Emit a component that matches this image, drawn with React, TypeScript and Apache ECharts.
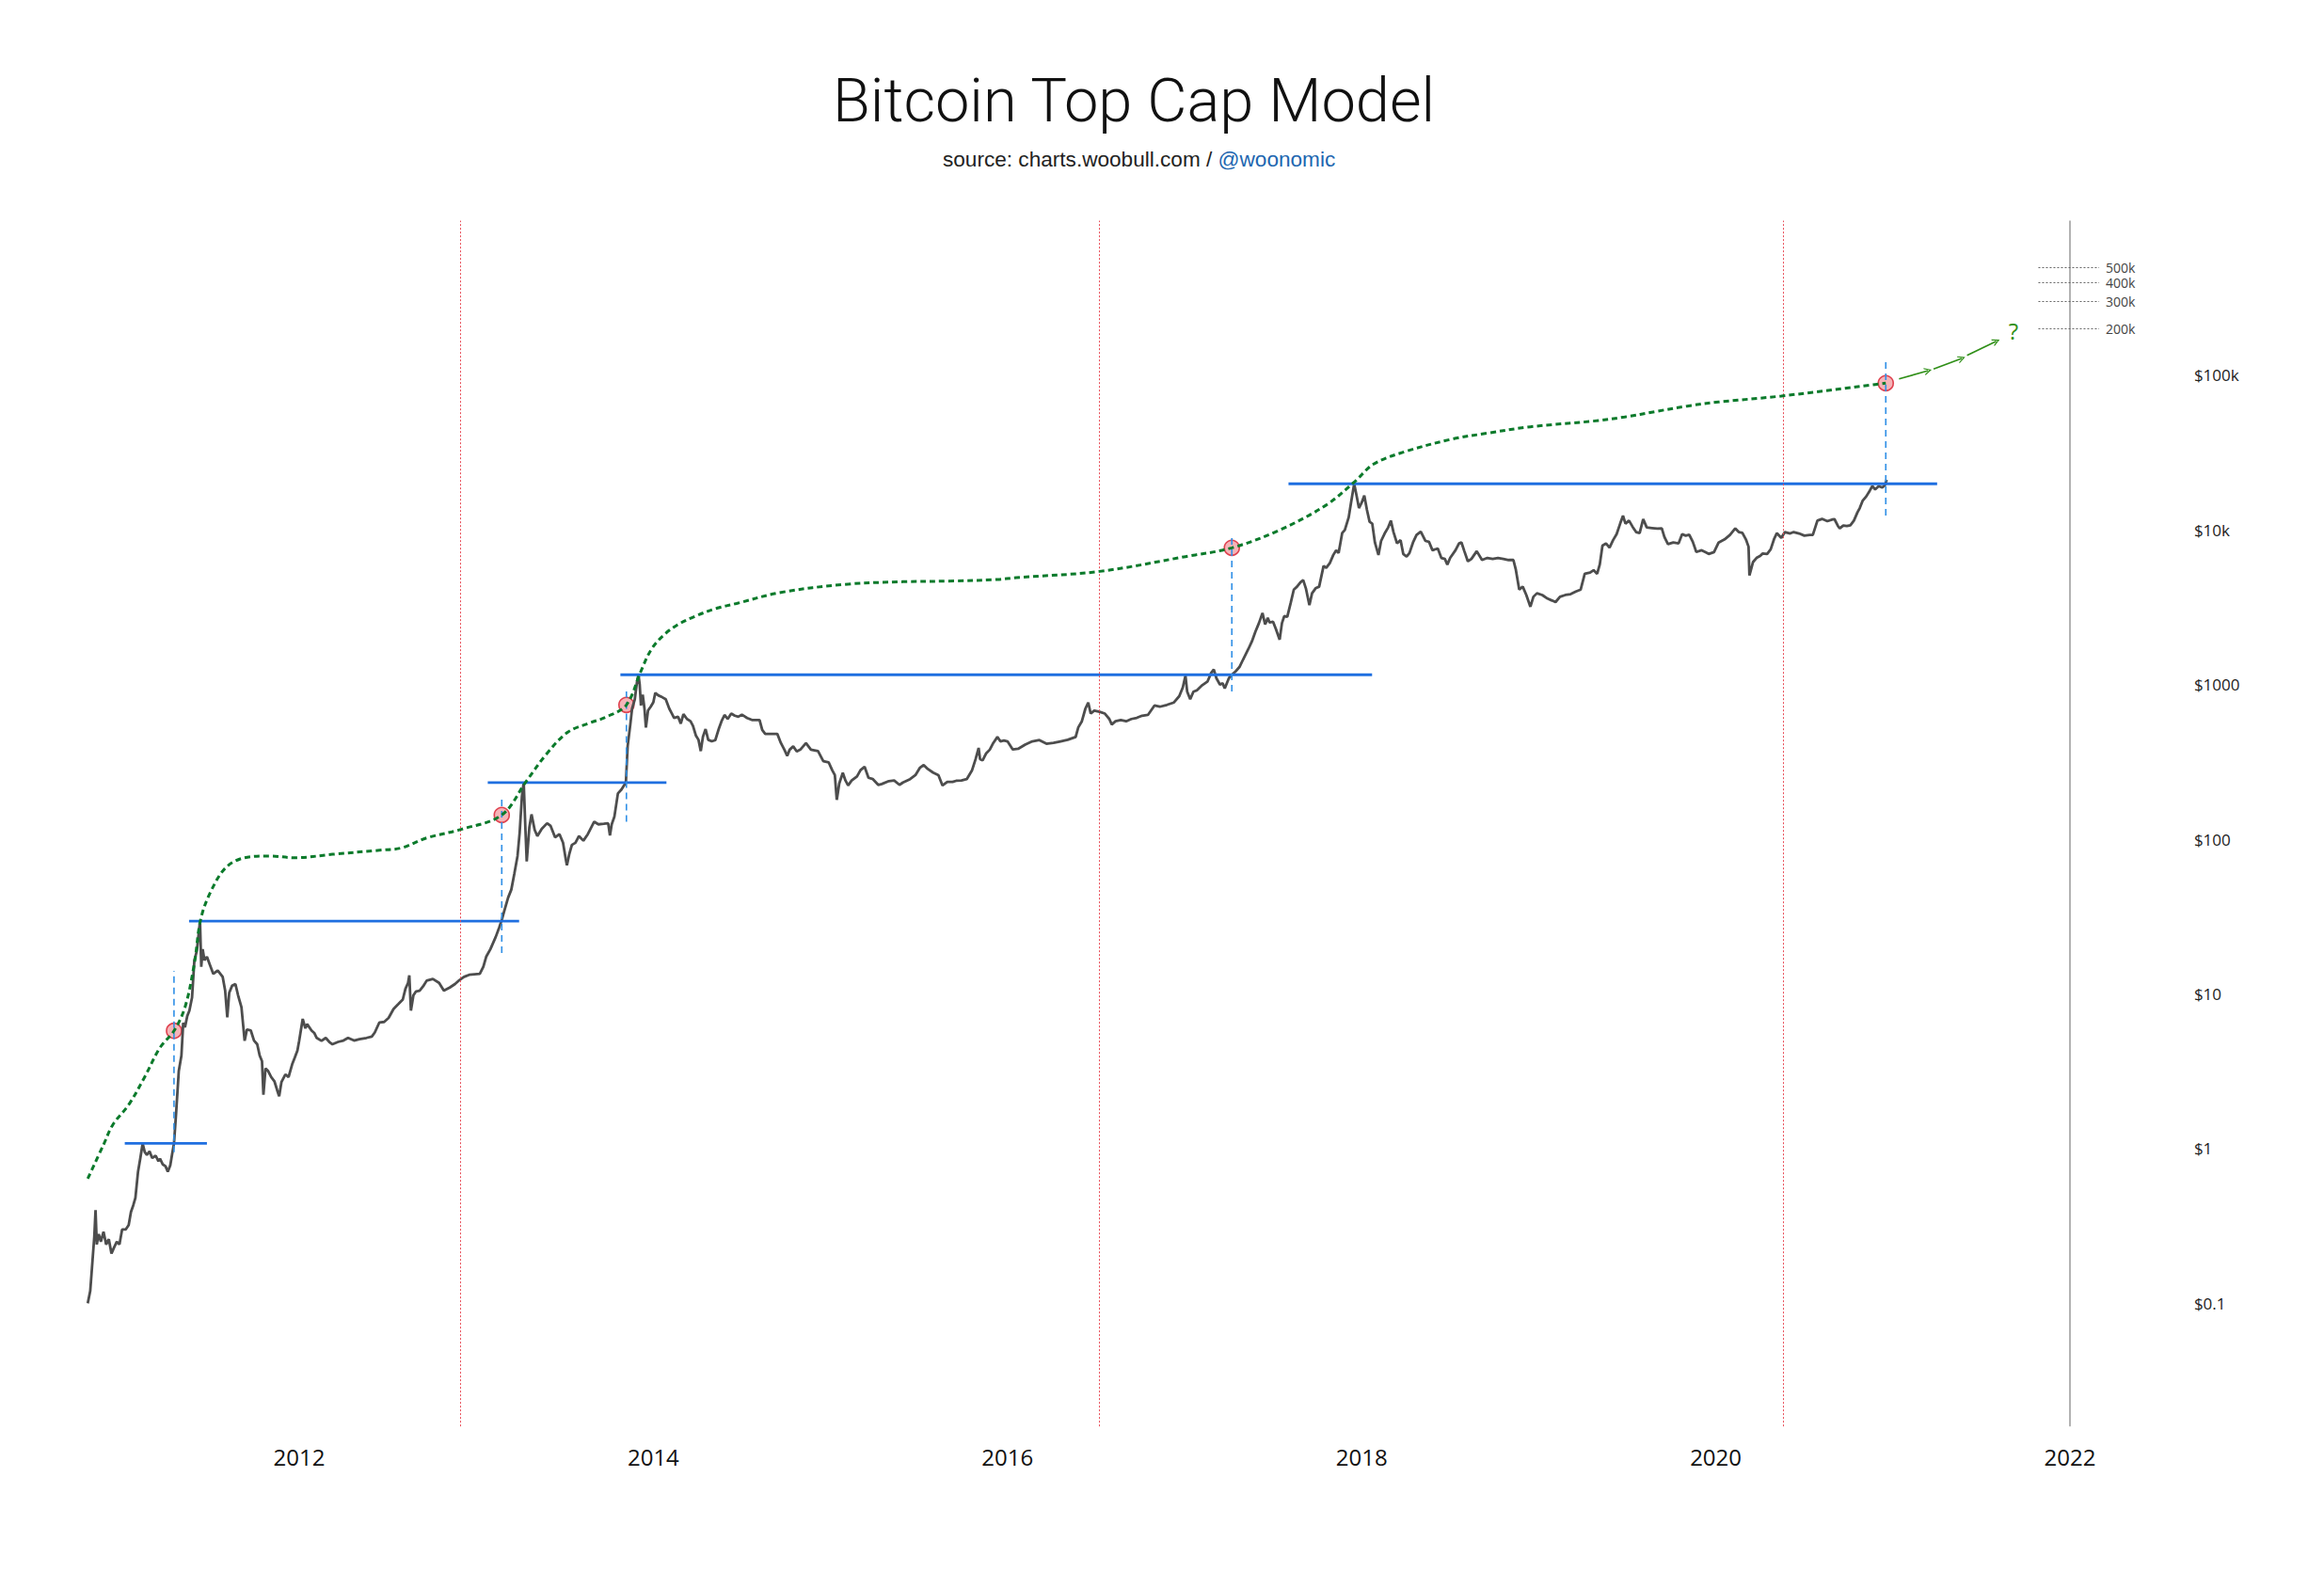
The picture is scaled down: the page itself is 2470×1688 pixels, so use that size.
import React, { useEffect, useRef } from "react";
import * as echarts from "echarts";

type Pt = [number, number];

// ---- axes ----
const yearTicks = [2012, 2014, 2016, 2018, 2020, 2022];
const priceTickExponents = [-1, 0, 1, 2, 3, 4, 5];
const priceTickLabels = ["$0.1", "$1", "$10", "$100", "$1000", "$10k", "$100k"];

// ---- events ----
const halvingDates = [2012.91, 2016.52, 2020.38];
const horizonDate = 2022;

// ---- BTC price (decimal year, USD) ----
const price2010_2011: Pt[] = [
  [2010.806, 0.1], [2010.82, 0.12], [2010.833, 0.19], [2010.843, 0.27], [2010.85, 0.4], [2010.857, 0.24],
  [2010.868, 0.28], [2010.88, 0.25], [2010.895, 0.29], [2010.91, 0.24], [2010.925, 0.26], [2010.94, 0.21],
  [2010.955, 0.23], [2010.97, 0.25], [2010.985, 0.24], [2011.0, 0.3], [2011.02, 0.3], [2011.037, 0.32],
  [2011.05, 0.39], [2011.063, 0.43], [2011.075, 0.48], [2011.09, 0.71], [2011.103, 0.87], [2011.116, 1.08],
  [2011.128, 0.95], [2011.14, 0.91], [2011.155, 0.96], [2011.17, 0.87], [2011.19, 0.9], [2011.205, 0.83],
  [2011.214, 0.86], [2011.23, 0.79], [2011.245, 0.77], [2011.258, 0.71], [2011.272, 0.78], [2011.283, 0.93],
  [2011.293, 1.08], [2011.305, 1.7], [2011.32, 3.17], [2011.335, 4.0], [2011.345, 6.5], [2011.355, 6.1],
  [2011.368, 7.2], [2011.38, 7.8], [2011.395, 9.5], [2011.408, 16.5], [2011.422, 19], [2011.44, 29.6],
  [2011.447, 15], [2011.455, 19.5], [2011.465, 16.5], [2011.479, 17.4], [2011.495, 15.5], [2011.515, 13.5],
  [2011.54, 14.2], [2011.568, 12.9], [2011.582, 10.5], [2011.594, 7.06], [2011.605, 10.2], [2011.621, 11.3],
  [2011.64, 11.6], [2011.655, 9.8], [2011.674, 8.2], [2011.692, 4.98], [2011.705, 5.9], [2011.727, 5.8],
  [2011.745, 5.0], [2011.763, 4.73], [2011.777, 4.0], [2011.79, 3.68], [2011.798, 2.23], [2011.81, 3.3],
  [2011.825, 3.17], [2011.842, 2.9], [2011.86, 2.73], [2011.875, 2.4], [2011.887, 2.18], [2011.9, 2.7],
  [2011.922, 3.02], [2011.94, 2.9], [2011.96, 3.5], [2011.975, 3.87], [2011.99, 4.3],
];

const price2012_2013: Pt[] = [
  [2012.0, 4.98], [2012.02, 6.9], [2012.035, 6.0], [2012.045, 6.38], [2012.07, 5.8], [2012.085, 5.6],
  [2012.099, 5.2], [2012.126, 4.98], [2012.15, 5.2], [2012.17, 4.9], [2012.188, 4.73], [2012.22, 4.9],
  [2012.25, 5.0], [2012.276, 5.2], [2012.31, 5.0], [2012.34, 5.1], [2012.38, 5.2], [2012.41, 5.3],
  [2012.427, 5.64], [2012.453, 6.55], [2012.48, 6.6], [2012.505, 7.0], [2012.533, 8.0], [2012.56, 8.6],
  [2012.585, 9.2], [2012.6, 10.8], [2012.615, 11.8], [2012.622, 13.2], [2012.631, 7.8], [2012.645, 9.8],
  [2012.66, 10.4], [2012.68, 10.5], [2012.7, 11.2], [2012.72, 12.2], [2012.755, 12.5], [2012.79, 11.8],
  [2012.817, 10.5], [2012.85, 11.0], [2012.88, 11.6], [2012.905, 12.3], [2012.931, 12.9], [2012.96, 13.3],
  [2012.99, 13.4], [2013.02, 13.5], [2013.04, 15], [2013.056, 17.4], [2013.08, 19.5], [2013.11, 23.4],
  [2013.13, 27], [2013.144, 30.1], [2013.16, 35], [2013.18, 42], [2013.198, 47.3], [2013.215, 60],
  [2013.233, 78], [2013.245, 110], [2013.258, 190], [2013.268, 233], [2013.276, 130], [2013.285, 72],
  [2013.3, 120], [2013.312, 145], [2013.33, 115], [2013.345, 105], [2013.37, 117], [2013.4, 127],
  [2013.42, 122], [2013.445, 103], [2013.47, 108], [2013.49, 95], [2013.505, 75], [2013.512, 68],
  [2013.525, 80], [2013.54, 92], [2013.56, 95], [2013.58, 105], [2013.605, 98], [2013.63, 108],
  [2013.666, 130], [2013.69, 125], [2013.72, 126], [2013.745, 127], [2013.755, 106], [2013.765, 125],
  [2013.78, 140], [2013.8, 198], [2013.82, 210], [2013.845, 233], [2013.855, 400], [2013.87, 553],
  [2013.88, 700], [2013.895, 800], [2013.908, 1050], [2013.916, 1159], [2013.923, 1000], [2013.93, 733],
  [2013.94, 860], [2013.95, 700], [2013.958, 528], [2013.97, 680], [2013.985, 720],
];

const price2014_2015: Pt[] = [
  [2014.0, 770], [2014.011, 884], [2014.03, 850], [2014.05, 830], [2014.07, 805], [2014.09, 700],
  [2014.105, 650], [2014.117, 609], [2014.14, 620], [2014.155, 560], [2014.17, 645], [2014.19, 600],
  [2014.21, 580], [2014.224, 541], [2014.24, 470], [2014.255, 440], [2014.268, 372], [2014.28, 460],
  [2014.295, 516], [2014.31, 440], [2014.33, 430], [2014.35, 438], [2014.37, 520], [2014.385, 580],
  [2014.402, 637], [2014.42, 600], [2014.44, 650], [2014.46, 630], [2014.48, 620], [2014.5, 640],
  [2014.53, 609], [2014.56, 590], [2014.6, 590], [2014.615, 510], [2014.632, 481], [2014.66, 480],
  [2014.7, 481], [2014.72, 420], [2014.74, 380], [2014.756, 347], [2014.77, 380], [2014.79, 399],
  [2014.81, 370], [2014.83, 380], [2014.862, 419], [2014.89, 380], [2014.93, 372], [2014.96, 320],
  [2014.99, 315], [2015.01, 280], [2015.025, 260], [2015.036, 180], [2015.05, 230], [2015.07, 269],
  [2015.085, 240], [2015.1, 223], [2015.12, 240], [2015.15, 255], [2015.17, 280], [2015.193, 295],
  [2015.215, 250], [2015.24, 245], [2015.27, 225], [2015.29, 228], [2015.33, 238], [2015.36, 240],
  [2015.39, 225], [2015.41, 233], [2015.45, 245], [2015.48, 260], [2015.505, 290], [2015.527, 302],
  [2015.55, 285], [2015.58, 270], [2015.61, 260], [2015.633, 223], [2015.66, 235], [2015.69, 235],
  [2015.71, 239], [2015.74, 240], [2015.77, 245], [2015.8, 280], [2015.82, 330], [2015.837, 390],
  [2015.845, 330], [2015.86, 324], [2015.88, 360], [2015.9, 380], [2015.92, 420], [2015.943, 459],
  [2015.96, 430], [2015.98, 435],
];

const price2016_2018: Pt[] = [
  [2016.0, 430], [2016.03, 381], [2016.06, 385], [2016.1, 410], [2016.14, 430], [2016.18, 438],
  [2016.22, 415], [2016.26, 420], [2016.3, 430], [2016.34, 440], [2016.385, 459], [2016.4, 530],
  [2016.42, 580], [2016.44, 700], [2016.456, 767], [2016.47, 650], [2016.49, 680], [2016.52, 667],
  [2016.55, 650], [2016.575, 600], [2016.589, 553], [2016.61, 580], [2016.64, 590], [2016.67, 580],
  [2016.7, 600], [2016.73, 610], [2016.76, 630], [2016.793, 637], [2016.83, 733], [2016.86, 720],
  [2016.9, 740], [2016.94, 767], [2016.97, 843], [2016.99, 960], [2017.005, 1143], [2017.015, 900],
  [2017.032, 805], [2017.05, 900], [2017.07, 920], [2017.1, 993], [2017.13, 1050], [2017.15, 1190],
  [2017.165, 1254], [2017.18, 1100], [2017.2, 1000], [2017.215, 1020], [2017.227, 946], [2017.25, 1100],
  [2017.267, 1160], [2017.289, 1222], [2017.31, 1300], [2017.33, 1450], [2017.36, 1698], [2017.38, 1900],
  [2017.4, 2200], [2017.42, 2500], [2017.44, 2906], [2017.455, 2450], [2017.47, 2700], [2017.48, 2525],
  [2017.5, 2550], [2017.515, 2300], [2017.537, 1955], [2017.55, 2500], [2017.563, 2773], [2017.58, 2750],
  [2017.6, 3400], [2017.617, 4120], [2017.635, 4300], [2017.655, 4600], [2017.67, 4740], [2017.685, 4200],
  [2017.705, 3266], [2017.72, 3900], [2017.74, 4200], [2017.76, 4300], [2017.785, 5850], [2017.8, 5700],
  [2017.82, 6100], [2017.84, 6900], [2017.856, 7390], [2017.87, 7100], [2017.89, 9550], [2017.905, 10000],
  [2017.927, 12080], [2017.94, 15000], [2017.958, 19900], [2017.97, 17000], [2017.985, 13870], [2018.0, 15000],
  [2018.015, 16700], [2018.03, 13500], [2018.045, 11300], [2018.06, 11000], [2018.075, 8300], [2018.095, 6890],
  [2018.11, 8500], [2018.13, 9500], [2018.15, 10400], [2018.165, 11500], [2018.18, 9700], [2018.2, 8200],
  [2018.22, 8600], [2018.235, 7000], [2018.254, 6730], [2018.27, 7100], [2018.29, 8300], [2018.31, 9300],
  [2018.334, 9770], [2018.36, 8500], [2018.38, 8400], [2018.4, 7400], [2018.43, 7600], [2018.45, 6600],
  [2018.47, 6500], [2018.484, 5980], [2018.5, 6600], [2018.53, 7400], [2018.55, 8200], [2018.564, 8300],
  [2018.58, 7300], [2018.6, 6270],
];

const price2018_2020: Pt[] = [
  [2018.62, 6500], [2018.65, 7300], [2018.68, 6400], [2018.71, 6600], [2018.74, 6500], [2018.77, 6600],
  [2018.8, 6500], [2018.83, 6400], [2018.857, 6400], [2018.87, 5600], [2018.89, 4120], [2018.91, 4300],
  [2018.93, 3800], [2018.953, 3190], [2018.97, 3700], [2018.99, 3900], [2019.02, 3800], [2019.05, 3600],
  [2019.075, 3500], [2019.095, 3420], [2019.12, 3700], [2019.15, 3800], [2019.18, 3850], [2019.21, 4000],
  [2019.237, 4120], [2019.26, 5210], [2019.29, 5300], [2019.31, 5500], [2019.33, 5210], [2019.345, 6000],
  [2019.36, 7930], [2019.38, 8200], [2019.4, 7700], [2019.42, 8600], [2019.44, 9400], [2019.46, 11000],
  [2019.476, 12360], [2019.49, 11000], [2019.51, 11500], [2019.53, 10500], [2019.55, 9700], [2019.57, 9550],
  [2019.59, 11770], [2019.61, 10400], [2019.64, 10300], [2019.67, 10200], [2019.695, 10240], [2019.71, 9000],
  [2019.73, 8100], [2019.76, 8300], [2019.79, 8200], [2019.81, 9400], [2019.83, 9200], [2019.85, 9330],
  [2019.87, 8400], [2019.89, 7210], [2019.92, 7400], [2019.94, 7200], [2019.96, 7000], [2019.99, 7200],
  [2020.016, 8300], [2020.05, 8700], [2020.08, 9300], [2020.11, 10240], [2020.13, 9700], [2020.15, 9600],
  [2020.17, 8700], [2020.185, 7800], [2020.19, 5080], [2020.21, 6200], [2020.23, 6600], [2020.25, 6800],
  [2020.265, 7050], [2020.29, 7000], [2020.31, 7500], [2020.33, 8800], [2020.345, 9550], [2020.37, 8900],
  [2020.39, 9700], [2020.42, 9500], [2020.44, 9700], [2020.47, 9500], [2020.5, 9200], [2020.53, 9300],
  [2020.548, 9300], [2020.574, 11500], [2020.6, 11800], [2020.63, 11400], [2020.66, 11700], [2020.67, 11770],
  [2020.69, 10600], [2020.7, 10240], [2020.72, 10700], [2020.74, 10600], [2020.76, 10740], [2020.78, 11500],
  [2020.8, 13000], [2020.813, 13870], [2020.83, 15500], [2020.85, 16500], [2020.87, 18000], [2020.884, 19230],
  [2020.9, 18300], [2020.92, 19200], [2020.94, 18800], [2020.955, 19500], [2020.965, 21130],
];

// ---- Top Cap model (dotted green) ----
const topCap: Pt[] = [
  [2010.806, 0.64], [2010.895, 1.06], [2010.948, 1.43], [2011.037, 1.92], [2011.125, 2.87], [2011.214, 4.5],
  [2011.293, 5.78], [2011.355, 8.2], [2011.408, 15.7], [2011.443, 30.1], [2011.497, 45], [2011.585, 65.5],
  [2011.692, 76], [2011.834, 78], [2011.975, 76], [2012.188, 80], [2012.453, 85], [2012.578, 88],
  [2012.719, 102], [2012.914, 116], [2013.144, 143.6], [2013.28, 235], [2013.4, 360], [2013.519, 495],
  [2013.64, 565], [2013.737, 620], [2013.848, 740], [2013.93, 1225], [2013.99, 1700], [2014.06, 2100],
  [2014.14, 2450], [2014.23, 2750], [2014.35, 3100], [2014.47, 3350], [2014.72, 3950], [2015.08, 4450],
  [2015.41, 4630], [2015.7, 4680], [2015.943, 4790], [2016.05, 4920], [2016.52, 5400], [2017.005, 6730],
  [2017.267, 7670], [2017.537, 10000], [2017.8, 14500], [2017.962, 20600], [2018.068, 26700], [2018.245, 32100],
  [2018.51, 38700], [2018.706, 42200], [2018.953, 46500], [2019.308, 50600], [2019.485, 53800], [2019.662, 58400],
  [2019.839, 63300], [2020.016, 67300], [2020.37, 73500], [2020.9, 87300], [2020.96, 89000],
];

// ---- previous all-time-high levels (solid blue) ----
const athLevels = [1.08, 29.6, 233, 1159, 19900];
const athStarts = [2011.015, 2011.378, 2013.065, 2013.814, 2017.587];
const athEnds = [2011.479, 2013.242, 2014.074, 2018.059, 2021.25];

// ---- breakouts (red circles + dashed blue verticals) ----
const breakoutDates = [2011.293, 2013.144, 2013.848, 2017.267, 2020.96];
const breakoutTopCap = [5.78, 143.6, 740, 7670, 89000];
const breakoutLows = [0.95, 18.4, 130, 904, 12400];
const breakoutHighs = [14.1, 185, 904, 9380, 129000];

// ---- projection arrows & target levels ----
const arrowStartX = [2021.035, 2021.23, 2021.419];
const arrowStartY = [94950, 109850, 134800];
const arrowEndX = [2021.199, 2021.389, 2021.584];
const arrowEndY = [107250, 128700, 166300];
const questionMark: Pt = [2021.681, 194000];
const targetLevels = [500000, 400000, 300000, 200000];
const targetLabels = ["500k", "400k", "300k", "200k"];
const targetFrom = 2021.822;
const targetTo = 2022.165;

const priceData: Pt[] = [
  ...price2010_2011,
  ...price2012_2013,
  ...price2014_2015,
  ...price2016_2018,
  ...price2018_2020,
];

const chevron = "path://M0,10 L5,0 L10,10 L8.4,10 L5,3.2 L1.6,10 Z";

export default function App() {
  const ref = useRef<HTMLDivElement>(null);

  useEffect(() => {
    if (!ref.current) return;
    const chart = echarts.init(ref.current, undefined, { renderer: "svg" });

    const athSeries = athLevels.map((lv, i) => ({
      type: "line",
      name: "ath" + i,
      data: [
        [athStarts[i], lv],
        [athEnds[i], lv],
      ],
      showSymbol: false,
      symbol: "none",
      silent: true,
      lineStyle: { color: "#1f6fe0", width: 2.8 },
      z: 4,
    }));

    const dashSeries = breakoutDates.map((d, i) => ({
      type: "line",
      name: "dash" + i,
      data: [
        [d, breakoutLows[i]],
        [d, breakoutHighs[i]],
      ],
      showSymbol: false,
      symbol: "none",
      silent: true,
      lineStyle: { color: "#2f8fe6", width: 1.6, type: [7, 5] },
      z: 5,
    }));

    const arrowLines = arrowStartX.map((x, i) => [
      { coord: [x, arrowStartY[i]], symbol: "none" },
      { coord: [arrowEndX[i], arrowEndY[i]], symbol: chevron, symbolSize: [8, 8] },
    ]);

    const targetLines = targetLevels.map((v, i) => [
      {
        coord: [targetFrom, v],
        name: targetLabels[i],
        symbol: "none",
        lineStyle: { color: "#666", width: 1, type: [2, 2] },
        label: {
          show: true,
          position: "end",
          formatter: targetLabels[i],
          color: "#444",
          fontSize: 14,
          fontFamily: "Open Sans",
          distance: 7,
        },
      },
      { coord: [targetTo, v], symbol: "none" },
    ]);

    const option: any = {
      animation: false,
      backgroundColor: "#ffffff",
      textStyle: { fontFamily: "Open Sans" },
      title: [
        {
          text: "Bitcoin Top Cap Model",
          left: 885,
          top: 74,
          padding: 0,
          textStyle: { fontFamily: "Roboto", fontWeight: 300, fontSize: 65, color: "#111" },
        },
        {
          text: "{a|source: charts.woobull.com / }{b|@woonomic}",
          left: 1002,
          top: 158,
          padding: 0,
          textStyle: {
            fontSize: 22.6,
            fontWeight: "normal",
            fontFamily: "Liberation Sans",
            rich: {
              a: { fontFamily: "Liberation Sans", fontWeight: "normal", fontSize: 22.6, color: "#222" },
              b: { fontFamily: "Liberation Sans", fontWeight: "normal", fontSize: 22.6, color: "#2166b0" },
            },
          },
        },
      ],
      grid: {
        left: 54.5,
        right: 157.1,
        top: 234.6,
        bottom: 171.8,
        containLabel: false,
        outerBoundsMode: "none",
      },
      xAxis: {
        type: "value",
        min: 2010.6,
        max: 2022.6,
        axisLine: { show: false },
        axisTick: { show: false },
        splitLine: { show: false },
        axisLabel: {
          customValues: yearTicks,
          formatter: (v: number) => String(Math.round(v)),
          fontSize: 24,
          color: "#111",
          fontFamily: "Open Sans",
          margin: 20,
        },
      },
      yAxis: {
        type: "log",
        logBase: 10,
        min: 0.016,
        max: 1000000,
        position: "right",
        axisLine: { show: false },
        axisTick: { show: false },
        splitLine: { show: false },
        axisLabel: {
          showMinLabel: false,
          showMaxLabel: false,
          fontSize: 17,
          color: "#222",
          fontFamily: "Open Sans",
          margin: 19,
          formatter: (v: number) => {
            const e = Math.round(Math.log10(v));
            const idx = priceTickExponents.indexOf(e);
            return idx >= 0 ? priceTickLabels[idx] : "";
          },
        },
      },
      series: [
        {
          type: "scatter",
          name: "breakouts",
          data: breakoutDates.map((d, i) => [d, breakoutTopCap[i]]),
          symbol: "circle",
          symbolSize: 16,
          silent: true,
          itemStyle: { color: "#f3a1a6", borderColor: "#d81b2c", borderWidth: 1.6 },
          z: 2,
        },
        {
          type: "line",
          name: "price",
          data: priceData,
          showSymbol: false,
          symbol: "none",
          silent: true,
          lineStyle: { color: "#4d4d4d", width: 2.8 },
          z: 3,
          markLine: {
            silent: true,
            symbol: "none",
            label: { show: false },
            data: [
              ...halvingDates.map((x) => ({
                xAxis: x,
                lineStyle: { color: "#e84a55", width: 1, type: [2, 2] },
              })),
              { xAxis: horizonDate, lineStyle: { color: "#b3b3b3", width: 2, type: "solid" } },
            ],
          },
        },
        ...athSeries,
        {
          type: "line",
          name: "topcap",
          data: topCap,
          smooth: 0.35,
          showSymbol: false,
          symbol: "none",
          silent: true,
          lineStyle: { color: "#0b7a2b", width: 3, type: [6, 4] },
          z: 6,
          markLine: {
            silent: true,
            symbol: "none",
            label: { show: false },
            lineStyle: { color: "#2f8f17", width: 1.7, type: "solid" },
            data: [...arrowLines, ...targetLines],
          },
          markPoint: {
            silent: true,
            data: [
              {
                coord: questionMark,
                symbol: "circle",
                symbolSize: 2,
                itemStyle: { color: "rgba(0,0,0,0)" },
                label: {
                  show: true,
                  position: "inside",
                  formatter: "?",
                  color: "#2f8f17",
                  fontSize: 24,
                  fontFamily: "Open Sans",
                },
              },
            ],
          },
        },
        ...dashSeries,
      ],
    };

    chart.setOption(option);
    return () => chart.dispose();
  }, []);

  return (
    <div
      ref={ref}
      style={{ position: "fixed", left: 0, top: 0, width: 2470, height: 1688, background: "#fff" }}
    />
  );
}
